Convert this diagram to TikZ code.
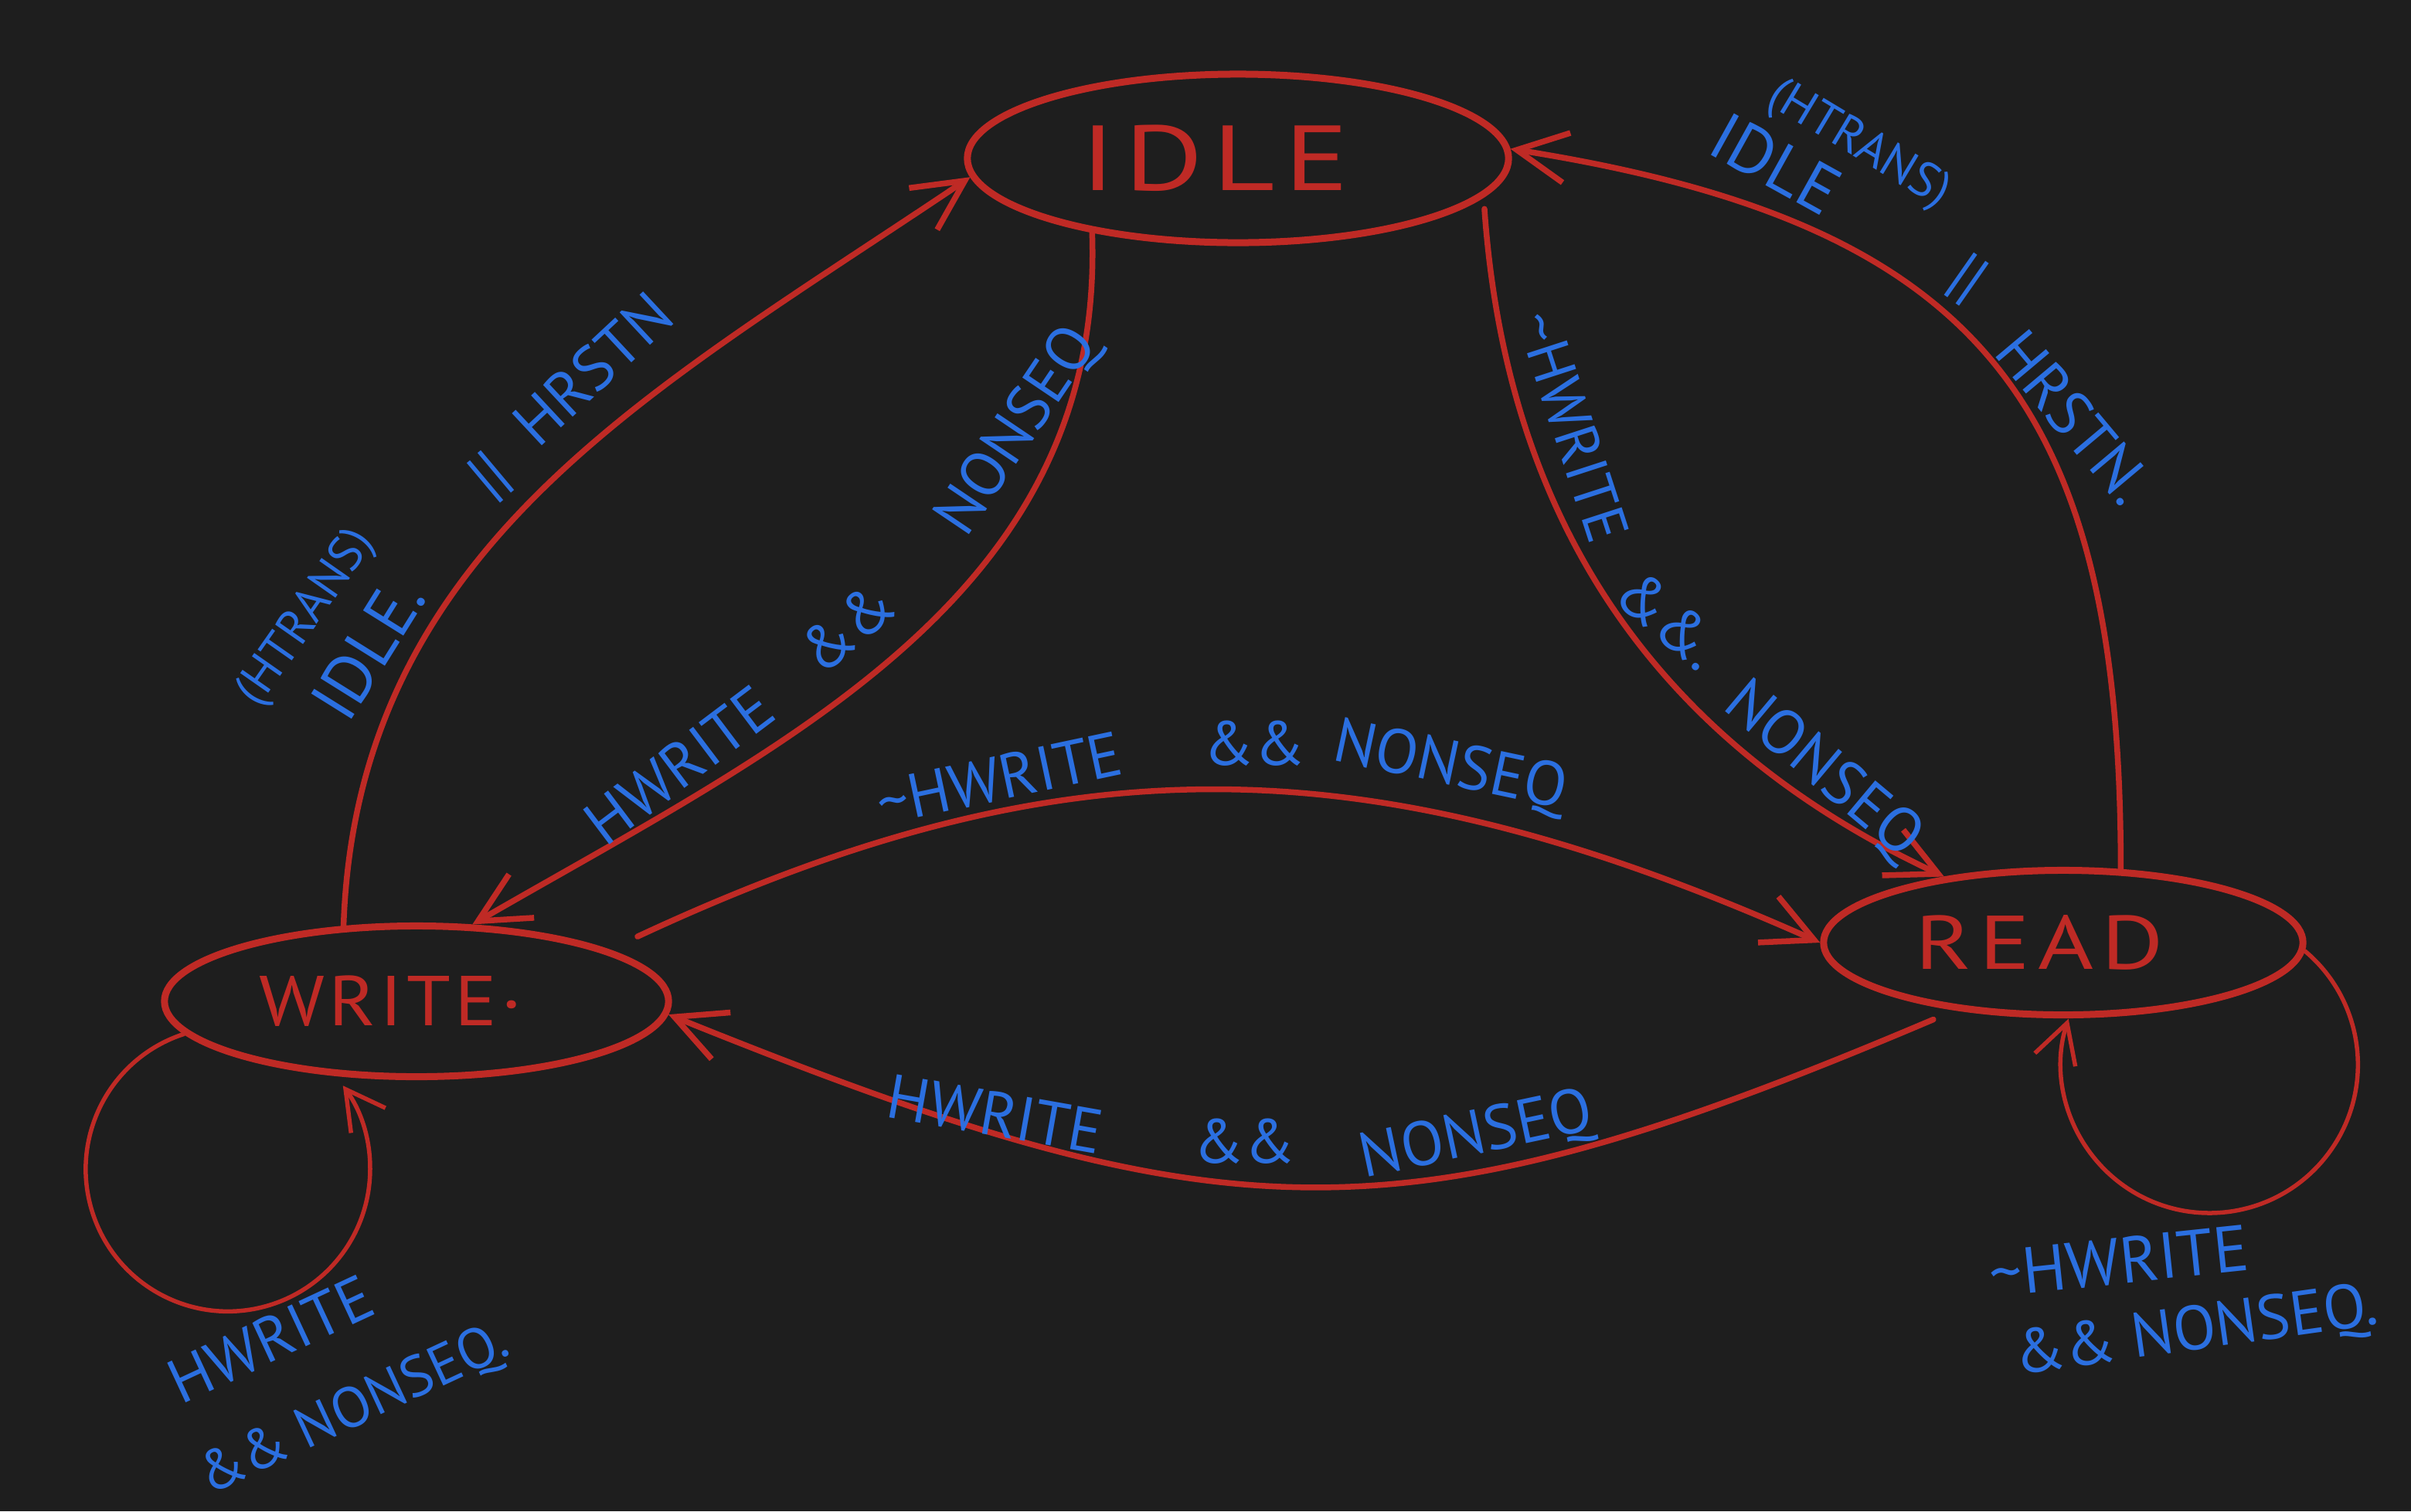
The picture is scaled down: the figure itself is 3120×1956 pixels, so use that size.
\documentclass[tikz,border=0pt]{standalone}
\usepackage{fontspec}
\newfontfamily\hand{PT Sans}
\usetikzlibrary{shapes.geometric,arrows.meta}
\definecolor{bg}{HTML}{1E1E1E}
\definecolor{inkred}{HTML}{BF2A25}
\definecolor{inkblue}{HTML}{2B6FE0}
\newcommand{\lblf}[1]{\hand\fontsize{#1}{#1}\selectfont}
\begin{document}
\begin{tikzpicture}[x=0.01cm,y=0.01cm,
  stnode/.style={ellipse, draw=inkred, line width=0.9mm, inner sep=0pt, text=inkred},
  trans/.style={draw=inkred, line width=0.75mm, line cap=round, -{Straight Barb[length=6.5mm,width=6.5mm]}},
  selfloop/.style={draw=inkred, line width=0.55mm, line cap=round, -{Straight Barb[length=5mm,width=5.5mm]}},
  lbl/.style={text=inkblue, inner sep=0pt, font=\lblf{#1}},
  lbl/.default=23]
\useasboundingbox (0,0) rectangle (3120,-1956);
\fill[bg] (0,0) rectangle (3120,-1956);

% states
\node[stnode, minimum width=7cm, minimum height=2.18cm,
      font=\hand\addfontfeature{LetterSpace=8}\fontsize{34}{40}\selectfont] (idle) at (1602,-205)
      {\hspace*{-0.6cm}\scalebox{1.3}[1]{IDLE}};
\node[stnode, minimum width=6.52cm, minimum height=1.95cm,
      font=\hand\addfontfeature{LetterSpace=5}\fontsize{26}{32}\selectfont] (write) at (539,-1296)
      {\hspace*{-0.66cm}\scalebox{1.12}[1]{WRITE·}};
\node[stnode, minimum width=6.2cm, minimum height=1.87cm,
      font=\hand\addfontfeature{LetterSpace=8}\fontsize{28}{34}\selectfont] (read) at (2670,-1220)
      {\hspace*{-0.62cm}\scalebox{1.25}[1]{READ}};

% transitions
\draw[trans] (write.134) to[out=88,in=214] (idle.184);
\draw[trans] (idle.207) to[out=-88,in=30] (write.54);
\draw[trans, shorten <=1.5mm] (idle.-9) to[out=-86,in=155] (read.151);
\draw[trans] (read.52) to[out=90,in=-9,looseness=1.28] (idle.2);
\draw[trans, shorten <=4mm] (write.15) to[out=25,in=156,looseness=1.05] (read.180);
\draw[trans, shorten <=3mm] (read.212) to[out=203,in=-22,looseness=1.2] (write.-3);

% self loops
\draw[selfloop] (write.188) arc[start angle=108, end angle=396, radius=184];
\draw[selfloop] (read.-2) arc[start angle=50, end angle=-198, radius=192];

% labels: WRITE -> IDLE
\node[lbl=18, rotate=55] (a1) at (397,-800) {(HTRANS)};
\node[lbl=25, rotate=58] (a2) at (476,-840) {IDLE.};
\node[lbl, rotate=40] (a3) at (635,-617) {||};
\node[lbl, rotate=43] (a4) at (767,-477) {HRSTN};

% labels: IDLE -> WRITE
\node[lbl, rotate=37] (b1) at (879,-990) {HWRITE};
\node[lbl, rotate=40] (b2) at (1096,-812) {\&\&};
\node[lbl, rotate=56] (b3) at (1318,-559) {NONSEQ};

% labels: IDLE -> READ
\node[lbl=22, rotate=-72] (c1) at (2036,-552) {\textasciitilde HWRITE};
\node[lbl, rotate=-40] (c2) at (2160,-802) {\&\&.};
\node[lbl, rotate=-40] (c3) at (2358,-998) {NONSEQ};

% labels: READ -> IDLE
\node[lbl=18, rotate=-31] (d1) at (2405,-188) {(HTRANS)};
\node[lbl=25, rotate=-29] (d2) at (2298,-212) {IDLE};
\node[lbl, rotate=-35] (d3) at (2545,-362) {||};
\node[lbl, rotate=-50] (d4) at (2684,-540) {HRSTN.};

% labels: WRITE -> READ
\node[lbl, rotate=12] (e1) at (1293,-1007) {\textasciitilde HWRITE};
\node[lbl] (e2) at (1623,-962) {\&\&};
\node[lbl, rotate=-12] (e3) at (1876,-994) {NONSEQ};

% labels: READ -> WRITE
\node[lbl, rotate=-10] (f1) at (1288,-1442) {HWRITE};
\node[lbl] (f2) at (1610,-1477) {\&\&};
\node[lbl, rotate=12] (f3) at (1911,-1472) {NONSEQ};

% labels: self loops
\node[lbl, rotate=25] (g1) at (350,-1733) {HWRITE};
\node[lbl=21, rotate=25] (g2) at (458,-1826) {\&\& NONSEQ.};
\node[lbl=24, rotate=6] (h1) at (2742,-1632) {\textasciitilde HWRITE};
\node[lbl, rotate=8] (h2) at (2842,-1725) {\&\& NONSEQ.};
\end{tikzpicture}
\end{document}
